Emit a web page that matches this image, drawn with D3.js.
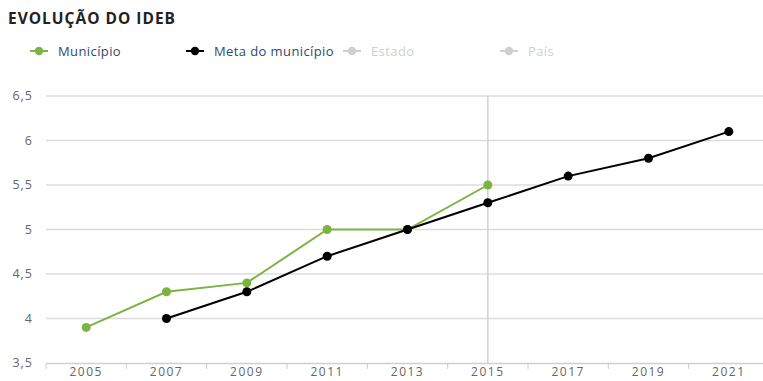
<!DOCTYPE html>
<html><head><meta charset="utf-8">
<script src="https://cdn.jsdelivr.net/npm/d3@7"></script>
<style>body{margin:0;background:#fff;overflow:hidden}svg{display:block}</style>
</head><body>
<svg id="c" width="763" height="381"></svg>
<script>
const years = ["2005","2007","2009","2011","2013","2015","2017","2019","2021"];
const municipio = [3.9, 4.3, 4.4, 5.0, 5.0, 5.5, null, null, null];
const meta = [null, 4.0, 4.3, 4.7, 5.0, 5.3, 5.6, 5.8, 6.1];
const yTicks = [3.5, 4, 4.5, 5, 5.5, 6, 6.5];
const legendNames = ["Município", "Meta do município", "Estado", "País"];
const legendColors = ["#7cb342", "#000000", "#cfcfcf", "#cfcfcf"];
const highlightYear = "2015";

const svg = d3.select("#c");
const font = "'Open Sans', sans-serif";
const mLeft = 46, mRight = 769, mTop = 96, mBottom = 363;

svg.append("text").attr("x", 8).attr("y", 24).text("EVOLUÇÃO DO IDEB")
  .attr("font-family", font).attr("font-weight", 700).attr("font-size", 15.5)
  .attr("fill", "#222").attr("letter-spacing", 1.0);

const x = d3.scaleBand().domain(years).range([mLeft, mRight]);
const y = d3.scaleLinear().domain([3.5, 6.5]).range([mBottom, mTop]);

// grid
svg.append("g").selectAll("line").data(yTicks.slice(1)).join("line")
  .attr("x1", mLeft).attr("x2", mRight).attr("y1", d => y(d)).attr("y2", d => y(d))
  .attr("stroke", "#dcdcdc").attr("stroke-width", 1.5);

// crosshair
svg.append("line").attr("x1", x(highlightYear) + x.bandwidth()/2).attr("x2", x(highlightYear) + x.bandwidth()/2)
  .attr("y1", mTop).attr("y2", mBottom).attr("stroke", "#d0d0d0").attr("stroke-width", 1.5);

// y labels
svg.append("g").selectAll("text").data(yTicks).join("text")
  .attr("x", 33).attr("y", d => y(d) + 4).attr("text-anchor", "end")
  .attr("font-family", font).attr("font-size", 12.5).attr("fill", "#666")
  .attr("letter-spacing", 1)
  .text(d => d3.format(".1~f")(d).replace(".", ","));

// x axis
const xAxis = d3.axisBottom(x).tickSize(0).tickPadding(4);
const gx = svg.append("g").attr("transform", `translate(0,${mBottom})`).call(xAxis);
gx.select(".domain").attr("stroke", "#d0d0d0").attr("stroke-width", 1.5);
gx.selectAll("text").attr("font-family", font).attr("font-size", 12).attr("fill", "#666").attr("letter-spacing", 1.5);
gx.selectAll(".bound").data(years.concat(["end"])).join("line").attr("class","bound")
  .attr("x1", (d,i) => mLeft + i * x.bandwidth()).attr("x2", (d,i) => mLeft + i * x.bandwidth())
  .attr("y1", 0).attr("y2", 6).attr("stroke", "#ccc").attr("stroke-width", 1);

function series(vals, color) {
  const pts = years.map((yr, i) => ({yr, v: vals[i]})).filter(d => d.v != null);
  const line = d3.line().x(d => x(d.yr) + x.bandwidth()/2).y(d => y(d.v));
  svg.append("path").datum(pts).attr("d", line).attr("fill", "none")
    .attr("stroke", color).attr("stroke-width", 2);
  svg.append("g").selectAll("circle").data(pts).join("circle")
    .attr("cx", d => x(d.yr) + x.bandwidth()/2).attr("cy", d => y(d.v)).attr("r", 4.5)
    .attr("fill", color);
}
series(municipio, legendColors[0]);
series(meta, legendColors[1]);

// legend
const legX = [30, 186, 343, 500];
const lg = svg.append("g").selectAll("g").data(legendNames).join("g")
  .attr("transform", (d, i) => `translate(${legX[i]},51)`);
lg.append("line").attr("x1", 0).attr("x2", 18).attr("stroke", (d,i) => legendColors[i]).attr("stroke-width", 2);
lg.append("circle").attr("cx", 9).attr("r", 4.2).attr("fill", (d,i) => legendColors[i]);
lg.append("text").attr("x", 28).attr("y", 4.5).text(d => d)
  .attr("font-family", font).attr("font-size", 13).attr("letter-spacing", 0.4)
  .attr("fill", (d,i) => i < 2 ? "#2e4a6b" : "#cfcfcf");
</script>
</body></html>
